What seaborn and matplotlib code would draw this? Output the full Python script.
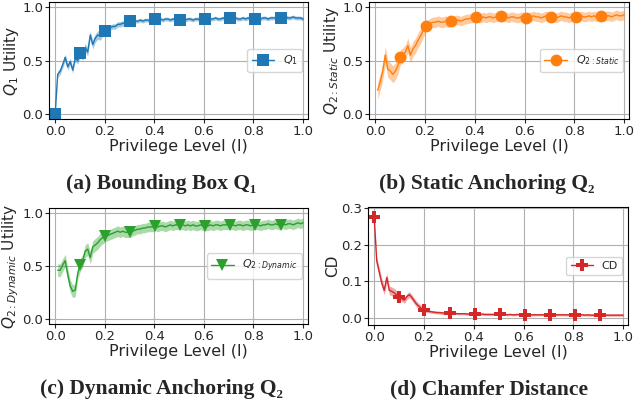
import numpy as np
import pandas as pd
import matplotlib
matplotlib.use("Agg")
import matplotlib.pyplot as plt
import seaborn as sns

# privilege level grid (100 evaluation points between 0 and 1)
levels = np.linspace(0, 1, 100)

q1_mean = [0.00, 0.37, 0.40, 0.46, 0.53, 0.44, 0.49, 0.41, 0.52, 0.50,
           0.57, 0.54, 0.62, 0.58, 0.74, 0.65, 0.71, 0.74, 0.73, 0.77,
           0.78, 0.80, 0.81, 0.82, 0.82, 0.84, 0.84, 0.85, 0.85, 0.86,
           0.87, 0.86, 0.87, 0.87, 0.88, 0.87, 0.88, 0.88, 0.87, 0.88,
           0.89, 0.88, 0.89, 0.88, 0.89, 0.89, 0.88, 0.89, 0.89, 0.88,
           0.88, 0.89, 0.88, 0.89, 0.89, 0.88, 0.89, 0.89, 0.88, 0.89,
           0.89, 0.88, 0.89, 0.89, 0.90, 0.89, 0.89, 0.90, 0.89, 0.89,
           0.90, 0.89, 0.90, 0.89, 0.89, 0.90, 0.89, 0.90, 0.89, 0.89,
           0.89, 0.90, 0.89, 0.90, 0.90, 0.89, 0.90, 0.90, 0.90, 0.89,
           0.90, 0.90, 0.91, 0.90, 0.90, 0.91, 0.90, 0.90, 0.90, 0.89]
q1_band = [0.0] + [0.03] * 9 + [0.04] * 10 + [0.025] * 11 + [0.018] * 69

static_mean = [np.nan, 0.22, 0.30, 0.40, 0.55, 0.42, 0.40, 0.37, 0.40, 0.45,
               0.53, 0.55, 0.58, 0.64, 0.55, 0.61, 0.64, 0.69, 0.73, 0.78,
               0.82, 0.83, 0.85, 0.86, 0.86, 0.87, 0.86, 0.86, 0.87, 0.86,
               0.87, 0.87, 0.88, 0.88, 0.87, 0.88, 0.89, 0.89, 0.90, 0.90,
               0.91, 0.90, 0.90, 0.91, 0.90, 0.91, 0.91, 0.90, 0.91, 0.92,
               0.92, 0.91, 0.91, 0.90, 0.91, 0.91, 0.90, 0.90, 0.91, 0.91,
               0.90, 0.91, 0.91, 0.92, 0.91, 0.91, 0.90, 0.91, 0.92, 0.91,
               0.91, 0.91, 0.90, 0.91, 0.92, 0.91, 0.91, 0.90, 0.91, 0.91,
               0.91, 0.91, 0.92, 0.91, 0.91, 0.92, 0.91, 0.92, 0.91, 0.92,
               0.92, 0.91, 0.92, 0.92, 0.91, 0.92, 0.93, 0.92, 0.92, 0.93]
static_band = [0.0] + [0.08] * 9 + [0.07] * 10 + [0.05] * 11 + [0.045] * 69

dynamic_mean = [np.nan, 0.46, 0.46, 0.51, 0.55, 0.42, 0.31, 0.26, 0.27, 0.43,
                0.51, 0.55, 0.64, 0.66, 0.58, 0.68, 0.70, 0.72, 0.75, 0.77,
                0.78, 0.79, 0.80, 0.81, 0.82, 0.83, 0.82, 0.83, 0.82, 0.82,
                0.82, 0.83, 0.84, 0.85, 0.85, 0.86, 0.86, 0.87, 0.87, 0.87,
                0.88, 0.87, 0.88, 0.88, 0.87, 0.88, 0.89, 0.88, 0.89, 0.89,
                0.89, 0.89, 0.88, 0.89, 0.88, 0.89, 0.88, 0.88, 0.89, 0.88,
                0.88, 0.88, 0.89, 0.88, 0.89, 0.89, 0.88, 0.89, 0.89, 0.89,
                0.89, 0.89, 0.88, 0.89, 0.89, 0.88, 0.89, 0.89, 0.88, 0.89,
                0.89, 0.89, 0.88, 0.89, 0.89, 0.90, 0.89, 0.89, 0.90, 0.89,
                0.89, 0.90, 0.89, 0.90, 0.90, 0.89, 0.90, 0.91, 0.90, 0.91]
dynamic_band = [0.0] + [0.06] * 9 + [0.06] * 10 + [0.05] * 11 + [0.045] * 69

cd_mean = [0.275, 0.155, 0.125, 0.095, 0.075, 0.110, 0.075, 0.072, 0.068, 0.062,
           0.057, 0.052, 0.048, 0.058, 0.063, 0.055, 0.045, 0.036, 0.030, 0.024,
           0.020, 0.018, 0.017, 0.016, 0.015, 0.014, 0.014, 0.013, 0.013, 0.013,
           0.012, 0.012, 0.012, 0.011, 0.011, 0.011, 0.011, 0.010, 0.010, 0.010,
           0.010, 0.010, 0.009, 0.010, 0.009, 0.009, 0.009, 0.009, 0.009, 0.009,
           0.009, 0.009, 0.009, 0.008, 0.009, 0.008, 0.008, 0.009, 0.008, 0.008,
           0.008, 0.008, 0.008, 0.008, 0.008, 0.008, 0.008, 0.008, 0.008, 0.008,
           0.008, 0.008, 0.008, 0.008, 0.008, 0.008, 0.008, 0.008, 0.008, 0.008,
           0.008, 0.008, 0.008, 0.008, 0.007, 0.008, 0.007, 0.007, 0.007, 0.007,
           0.007, 0.007, 0.007, 0.007, 0.007, 0.007, 0.007, 0.007, 0.007, 0.007]
cd_band = [0.0] + [0.012] * 9 + [0.008] * 10 + [0.004] * 11 + [0.003] * 69

sns.set_style("ticks", {"axes.grid": True, "grid.color": "#b0b0b0",
                        "axes.edgecolor": "black"})
plt.rcParams["font.family"] = ["DejaVu Sans"]

colors = sns.color_palette("tab10")
fig = plt.figure(figsize=(6.37, 4.08), dpi=100)

panels = [
    # mean, band, label, ylabel, marker, color, axes rect, first valid index
    (q1_mean, q1_band, r"$Q_1$", r"$Q_1$ Utility", "s", colors[0],
     [0.0769, 0.7083, 0.4066, 0.2868], 0),
    (static_mean, static_band, r"$Q_{2:Static}$", r"$Q_{2:Static}$ Utility", "o", colors[1],
     [0.5793, 0.7083, 0.4082, 0.2868], 1),
    (dynamic_mean, dynamic_band, r"$Q_{2:Dynamic}$", r"$Q_{2:Dynamic}$ Utility", "v", colors[2],
     [0.0769, 0.2059, 0.4066, 0.2843], 1),
    (cd_mean, cd_band, "CD", "CD", "P", colors[3],
     [0.5777, 0.2034, 0.4082, 0.2892], 0),
]

for mean, band, label, ylabel, marker, color, rect, start in panels:
    ax = fig.add_axes(rect)
    df = pd.DataFrame({"level": levels, "value": mean, "band": band}).iloc[start:]
    lo = df["value"] - df["band"]
    hi = df["value"] + df["band"]
    ax.fill_between(df["level"], lo, hi, color=color, alpha=0.4, linewidth=0)
    sns.lineplot(data=df, x="level", y="value", ax=ax, color=color, lw=1.0,
                 marker=marker, markersize=8.5, markeredgewidth=0,
                 markevery=((10 - start) % 10, 10), label=label, errorbar=None)
    ax.set_xlim(-0.025, 1.02)
    ax.set_xticks([0, 0.2, 0.4, 0.6, 0.8, 1.0])
    if label == "CD":
        ax.set_ylim(-0.02, 0.303)
        ax.set_yticks([0, 0.1, 0.2, 0.3])
    else:
        ax.set_ylim(-0.05, 1.05)
        ax.set_yticks([0, 0.5, 1.0])
    ax.tick_params(labelsize=9.5, length=3, pad=1)
    ax.set_xlabel("Privilege Level (l)", fontsize=11.5, labelpad=1)
    ax.set_ylabel(ylabel, fontsize=11, labelpad=1)
    ax.legend(loc="center right", fontsize=8)

cap = dict(family=["Liberation Serif", "DejaVu Serif"], weight="bold",
           fontsize=15.5, ha="center", va="center")
fig.text(161 / 637, 1 - 184 / 408, "(a) Bounding Box Q₁", **cap)
fig.text(487 / 637, 1 - 184 / 408, "(b) Static Anchoring Q₂", **cap)
fig.text(161 / 637, 1 - 389 / 408, "(c) Dynamic Anchoring Q₂", **cap)
fig.text(489 / 637, 1 - 389 / 408, "(d) Chamfer Distance", **cap)

fig.savefig("out.png", dpi=100)
